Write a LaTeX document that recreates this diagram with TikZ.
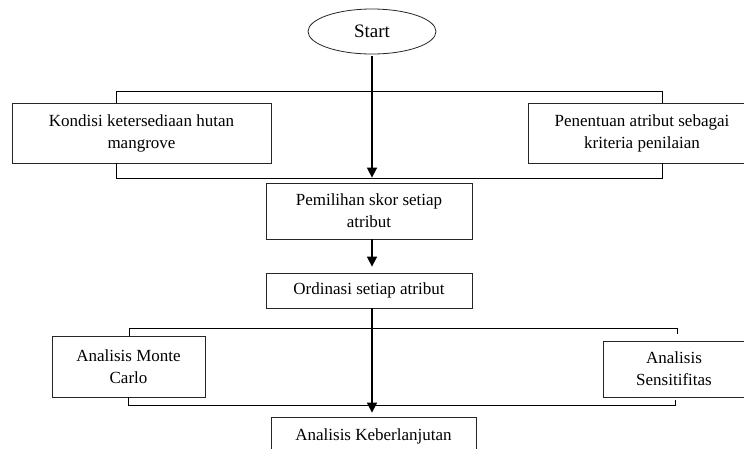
\documentclass[tikz,border=0pt]{standalone}
\usepackage{fontspec}
\setmainfont{Liberation Serif}
\usetikzlibrary{shapes.geometric,arrows.meta}
\begin{document}
\begin{tikzpicture}[x=1pt,y=-1pt,
  box/.style={draw=black!85,line width=0.8pt,rectangle,align=center,inner sep=0pt,
    font=\fontsize{17}{22}\selectfont},
  line/.style={draw=black,line width=0.9pt},
  arr/.style={draw=black,line width=1.6pt,-{Triangle[length=10pt,width=10pt]}}]
\clip (0,0) rectangle (744,448);
\fill[white] (0,0) rectangle (744,448);
% nodes
\node[draw=black!85,line width=0.8pt,ellipse,minimum width=128pt,minimum height=45pt,inner sep=0pt,
  font=\fontsize{19}{22}\selectfont] (start) at (372,31.5) {Start};
\node[box,minimum width=259pt,minimum height=60pt] (kondisi) at (141.5,133) {Kondisi ketersediaan hutan\\mangrove};
\node[box,minimum width=228pt,minimum height=60pt] (penentuan) at (642,133) {Penentuan atribut sebagai\\kriteria penilaian};
\node[box,minimum width=206pt,minimum height=56pt] (pemilihan) at (369,211) {Pemilihan skor setiap\\atribut};
\node[box,minimum width=206pt,minimum height=35pt] (ordinasi) at (369,290.5) {Ordinasi setiap atribut};
\node[box,minimum width=153pt,minimum height=61pt] (monte) at (128.5,366.5) {Analisis Monte\\Carlo};
\node[box,minimum width=142pt,minimum height=56pt] (sensitif) at (674,369) {Analisis\\Sensitifitas};
\node[box,minimum width=205pt,minimum height=38pt] (keber) at (373.5,436) {Analisis Keberlanjutan};
% bracket coordinates
\coordinate (tl) at (116,91);
\coordinate (tr) at (662,91);
\coordinate (bl) at (116,178);
\coordinate (br) at (662,178);
\coordinate (ml) at (129,328);
\coordinate (mr) at (677,328);
\coordinate (mrend) at (677,334);
\coordinate (nl) at (128,405);
\coordinate (nr) at (675,405);
\coordinate (nrend) at (675,400);
% brackets
\draw[line] (kondisi.north -| tl) -- (tl) -- (tr) -- (penentuan.north -| tr);
\draw[line] (kondisi.south -| bl) -- (bl) -- (br) -- (penentuan.south -| br);
\draw[line] (monte.north -| ml) -- (ml) -- (mr) -- (mrend);
\draw[line] (monte.south -| nl) -- (nl) -- (nr) -- (nrend);
% arrows
\draw[arr,shorten <=2pt,shorten >=5pt] (start.south) -- (start.south |- pemilihan.north);
\draw[arr,shorten >=6pt] (pemilihan.south -| start.south) -- (start.south |- ordinasi.north);
\draw[arr,shorten >=4pt] (ordinasi.south -| start.south) -- (start.south |- keber.north);
\end{tikzpicture}
\end{document}
